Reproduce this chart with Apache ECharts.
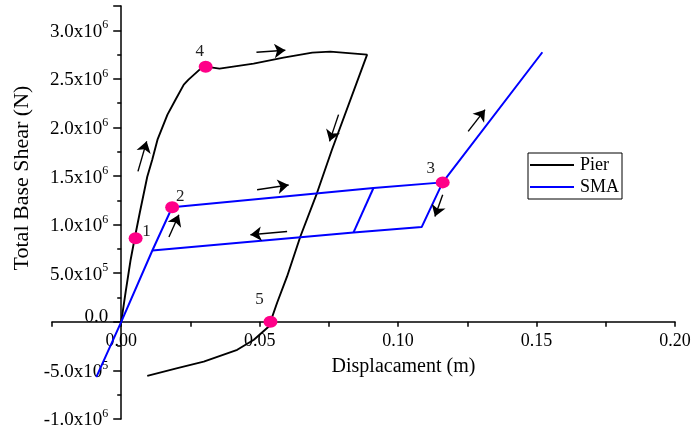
<!DOCTYPE html>
<html>
<head>
<meta charset="utf-8">
<script src="https://cdn.jsdelivr.net/npm/echarts@6/dist/echarts.min.js"></script>
<style>
html,body{margin:0;padding:0;background:#fff;}
#chart{width:695px;height:432px;}
</style>
</head>
<body>
<div id="chart"></div>
<script>
// ---- data (x: displacement m, y: base shear N) ----
const pierCurve = [
  [0, 0], [0.0016, 309000], [0.0034, 639000], [0.0049, 865000], [0.0067, 1123000],
  [0.0094, 1493000], [0.0112, 1668000], [0.0131, 1874000], [0.0167, 2132000],
  [0.0196, 2286000], [0.0226, 2441000], [0.0243, 2492000], [0.0287, 2606000],
  [0.0305, 2626000], [0.0355, 2606000],
  [0.0478, 2657000], [0.0586, 2719000], [0.0690, 2770000], [0.0755, 2780000],
  [0.0888, 2750000], [0.0761, 1771000], [0.0707, 1325000], [0.0647, 878000],
  [0.0599, 467000], [0.0563, 196000], [0.0539, 0], [0.0533, -48000],
  [0.0479, -185000], [0.0419, -288000], [0.0298, -409000], [0.0203, -477000],
  [0.0094, -556000]
];
const smaLoading = [[-0.0090, -0.570e6], [0, 0], [0.01124, 0.734e6], [0.0184, 1.179e6], [0.0911, 1.377e6], [0.1161, 1.435e6], [0.1521, 2.774e6]];
const smaUnloading = [[0.1161, 1.435e6], [0.1085, 0.975e6], [0.0839, 0.920e6], [0.01124, 0.734e6]];
const smaInner = [[0.0911, 1.377e6], [0.0839, 0.920e6]];
const keyPoints = [[0.0052, 0.86e6], [0.0184, 1.179e6], [0.1161, 1.435e6], [0.0305, 2.626e6], [0.0539, 0]];
const keyLabels = ['1', '2', '3', '4', '5'];
const arrows = [
  [[0.00605, 1.548e6], [0.00919, 1.857e6]],
  [[0.04883, 2.774e6], [0.05928, 2.794e6]],
  [[0.07849, 2.132e6], [0.07524, 1.857e6]],
  [[0.04908, 1.359e6], [0.06047, 1.408e6]],
  [[0.0599, 0.930e6], [0.04667, 0.896e6]],
  [[0.01723, 0.872e6], [0.02083, 1.102e6]],
  [[0.1161, 1.308e6], [0.1133, 1.084e6]],
  [[0.1253, 1.960e6], [0.1314, 2.183e6]]
];
const seriesNames = ['Pier', 'SMA'];
const xRange = [-0.025, 0.2];
const yRange = [-1e6, 3.25e6];

// ---- styling ----
const FONT = "'Liberation Serif', 'Times New Roman', serif";
const labelOffsets = [[11, -7], [8, -11], [-12, -14], [-6, -15], [-11, -22]];
const W = 695, H = 432;
const G = {left: 52, right: 20, top: 6, bottom: 13};
const gw = W - G.left - G.right, gh = H - G.top - G.bottom;
// axes cross at the origin: shift each axis from the grid edge to the zero line
const yAxisOffset = -gw * (0 - xRange[0]) / (xRange[1] - xRange[0]);
const xAxisOffset = -gh * (0 - yRange[0]) / (yRange[1] - yRange[0]);

const chart = echarts.init(document.getElementById('chart'), null, {renderer: 'canvas'});

function yFmt(v) {
  if (Math.abs(v) < 1) return '{z|0.0}';
  const exp = Math.floor(Math.log10(Math.abs(v)) + 1e-9);
  const m = v / Math.pow(10, exp);
  return '{b|' + m.toFixed(1) + 'x10}{s|' + exp + '}';
}
function xFmt(v) {
  const k = Math.round(v * 1000);
  if (k % 50 !== 0) return '';
  return (k / 1000).toFixed(2);
}

const smaStyle = {color: '#0000ff', width: 2};
const option = {
  animation: false,
  backgroundColor: '#fff',
  grid: Object.assign({containLabel: false, outerBoundsMode: 'none'}, G),
  legend: {
    data: seriesNames,
    orient: 'vertical',
    left: 528, top: 153,
    padding: [3, 3, 3, 2],
    itemGap: 4,
    itemWidth: 44, itemHeight: 2,
    icon: 'rect',
    borderColor: '#000', borderWidth: 1,
    textStyle: {fontFamily: FONT, fontSize: 18, color: '#000', padding: [0, 0, 0, 1]}
  },
  xAxis: {
    type: 'value', min: xRange[0], max: xRange[1], interval: 0.025,
    offset: xAxisOffset,
    name: 'Displacament (m)', nameLocation: 'middle', nameGap: 35,
    nameTextStyle: {fontFamily: FONT, fontSize: 20, color: '#000', padding: [0, 0, 0, 80]},
    axisLine: {onZero: false, lineStyle: {color: '#000', width: 1.5}},
    axisTick: {inside: false, length: 5, lineStyle: {color: '#000', width: 1.5}},
    axisLabel: {formatter: xFmt, fontFamily: FONT, fontSize: 18, color: '#000', margin: 10, showMinLabel: true},
    splitLine: {show: false}
  },
  yAxis: {
    type: 'value', min: yRange[0], max: yRange[1], interval: 0.5e6,
    offset: yAxisOffset,
    name: 'Total Base Shear (N)', nameLocation: 'middle', nameGap: 86, nameRotate: 90,
    nameTextStyle: {fontFamily: FONT, fontSize: 22, color: '#000', padding: [0, 0, 0, 69]},
    axisLine: {onZero: false, lineStyle: {color: '#000', width: 1.5}},
    axisTick: {inside: false, length: 8, lineStyle: {color: '#000', width: 1.5}},
    minorTick: {show: true, splitNumber: 2, length: 4, lineStyle: {color: '#000', width: 1.5}},
    axisLabel: {
      formatter: yFmt, margin: 13, showMaxLabel: false,
      rich: {
        b: {fontFamily: FONT, fontSize: 19, color: '#000', lineHeight: 22, verticalAlign: 'bottom'},
        s: {fontFamily: FONT, fontSize: 12, color: '#000', lineHeight: 12, verticalAlign: 'top'},
        z: {fontFamily: FONT, fontSize: 19, color: '#000', padding: [0, 0, 9, 0]}
      }
    },
    splitLine: {show: false}
  },
  series: [
    {name: 'Pier', type: 'line', data: pierCurve, showSymbol: false, symbol: 'none',
     lineStyle: {color: '#000', width: 1.9}, itemStyle: {color: '#000'}, z: 2},
    {name: 'SMA', type: 'line', data: smaLoading, showSymbol: false, symbol: 'none',
     lineStyle: smaStyle, itemStyle: {color: '#0000ff'}, z: 3},
    {name: 'SMA', type: 'line', data: smaUnloading, showSymbol: false, symbol: 'none',
     lineStyle: smaStyle, itemStyle: {color: '#0000ff'}, z: 3},
    {name: 'SMA', type: 'line', data: smaInner, showSymbol: false, symbol: 'none',
     lineStyle: smaStyle, itemStyle: {color: '#0000ff'}, z: 3},
    {type: 'lines', coordinateSystem: 'cartesian2d', z: 4,
     symbol: ['none', 'arrow'], symbolSize: [0, 11],
     lineStyle: {color: '#000', width: 1.4, opacity: 1},
     data: arrows.map(c => ({coords: c}))},
    {type: 'scatter', z: 5, symbol: 'circle', symbolSize: [14, 12],
     itemStyle: {color: '#ff0088', opacity: 1},
     data: keyPoints.map((p, i) => ({
       value: p,
       label: {show: true, formatter: keyLabels[i], position: 'inside', offset: labelOffsets[i],
               fontFamily: FONT, fontSize: 17, color: '#222'}
     }))}
  ]
};
chart.setOption(option);
</script>
</body>
</html>
